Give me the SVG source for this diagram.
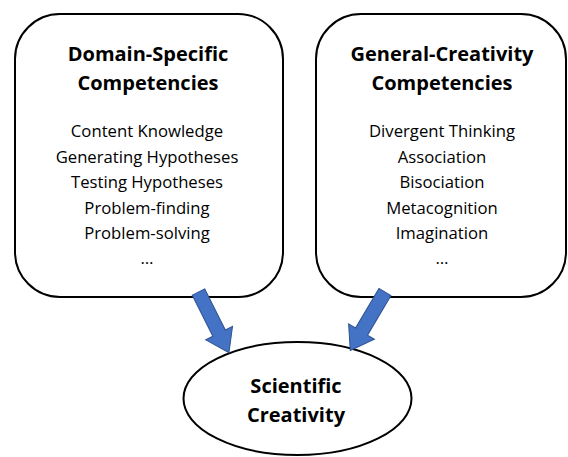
<svg xmlns="http://www.w3.org/2000/svg" width="568" height="457" viewBox="0 0 568 457">
  <defs>
    <style>
      .box { fill: #ffffff; stroke: #000000; stroke-width: 2; }
      .head { font-family: "Open Sans", "Liberation Sans", sans-serif; font-weight: bold; font-size: 20px; fill: #000000; text-anchor: middle; }
      .item { font-family: "Open Sans", "Liberation Sans", sans-serif; font-size: 16.7px; fill: #000000; text-anchor: middle; }
      .arrow { fill: #4472C4; stroke: #2F528F; stroke-width: 1; stroke-linejoin: miter; }
    </style>
    <!-- block arrow pointing along +x, length 68 -->
    <polygon id="block-arrow" points="0,-7 46,-7 46,-15 68,0 46,15 46,7 0,7"/>
  </defs>

  <rect width="568" height="457" fill="#ffffff"/>

  <g id="domain-specific">
    <rect class="box" x="15" y="14" width="268" height="283" rx="45" ry="45"/>
    <text class="head" x="148" y="61">Domain-Specific</text>
    <text class="head" x="148" y="90">Competencies</text>
    <text class="item" x="147" y="137">Content Knowledge</text>
    <text class="item" x="147" y="162.5">Generating Hypotheses</text>
    <text class="item" x="147" y="188">Testing Hypotheses</text>
    <text class="item" x="147" y="213.5">Problem-finding</text>
    <text class="item" x="147" y="239">Problem-solving</text>
    <text class="item" x="147" y="264">…</text>
  </g>

  <g id="general-creativity">
    <rect class="box" x="316" y="14" width="250" height="283" rx="45" ry="45"/>
    <text class="head" x="442" y="61">General-Creativity</text>
    <text class="head" x="442" y="90">Competencies</text>
    <text class="item" x="442" y="137">Divergent Thinking</text>
    <text class="item" x="442" y="162.5">Association</text>
    <text class="item" x="442" y="188">Bisociation</text>
    <text class="item" x="442" y="213.5">Metacognition</text>
    <text class="item" x="442" y="239">Imagination</text>
    <text class="item" x="442" y="264">…</text>
  </g>

  <g id="scientific-creativity">
    <ellipse class="box" cx="297.5" cy="398.5" rx="114" ry="56.5"/>
    <text class="head" x="296" y="393">Scientific</text>
    <text class="head" x="296" y="422">Creativity</text>
  </g>

  <g id="connectors">
    <use href="#block-arrow" class="arrow" transform="translate(198.5,292) rotate(63.4)"/>
    <use href="#block-arrow" class="arrow" transform="translate(385,292) rotate(120.7)"/>
  </g>
</svg>
